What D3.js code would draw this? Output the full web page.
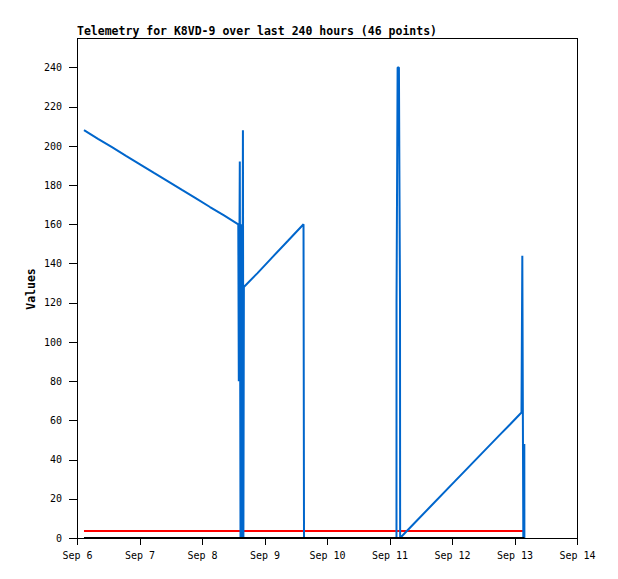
<!DOCTYPE html>
<html>
<head>
<meta charset="utf-8">
<script src="https://cdn.jsdelivr.net/npm/d3@7"></script>
<style>
  html, body { margin: 0; padding: 0; background: #fff; }
  svg { display: block; }
</style>
</head>
<body>
<svg id="chart" width="618" height="579"></svg>
<script>
const chartTitle = "Telemetry for K8VD-9 over last 240 hours (46 points)";
const yAxisTitle = "Values";

const times = [
  "2023-09-06 02:41","2023-09-06 08:04","2023-09-06 13:26","2023-09-06 18:49",
  "2023-09-07 00:11","2023-09-07 05:34","2023-09-07 10:57","2023-09-07 16:19",
  "2023-09-07 21:42","2023-09-08 03:04","2023-09-08 08:27","2023-09-08 13:56",
  "2023-09-08 14:08","2023-09-08 14:31","2023-09-08 14:47","2023-09-08 15:05",
  "2023-09-08 15:22","2023-09-08 15:43","2023-09-08 15:54","2023-09-08 16:05",
  "2023-09-08 21:19","2023-09-09 02:53","2023-09-09 09:01","2023-09-09 14:59",
  "2023-09-09 15:10","2023-09-10 01:09","2023-09-10 12:40","2023-09-10 18:26",
  "2023-09-11 02:41","2023-09-11 02:42","2023-09-11 03:07","2023-09-11 03:37",
  "2023-09-11 04:02","2023-09-11 04:05","2023-09-11 09:48","2023-09-11 15:33",
  "2023-09-12 01:09","2023-09-12 06:55","2023-09-12 12:40","2023-09-12 18:26",
  "2023-09-12 22:16","2023-09-13 02:41","2023-09-13 03:00","2023-09-13 03:23",
  "2023-09-13 03:46","2023-09-13 03:48"
];

const blueValues = [
  208, 203.6, 199.3, 194.9, 190.6, 186.2, 181.9, 177.5, 173.2, 168.8, 164.5, 160,
  80, 192, 0, 160, 0, 208, 0, 128,
  135.1, 143, 151.6, 160,
  0, 0, 0, 0, 0, 120, 240, 240, 120, 0,
  7.9, 15.8, 29.0, 36.9, 44.8, 52.7, 57.9, 64,
  144, 0, 48, 0
];

const redValues = [
  3.6,3.6,3.6,3.6,3.6,3.6,3.6,3.6,3.6,3.6,3.6,3.6,3.6,3.6,3.6,3.6,
  3.6,3.6,3.6,3.6,3.6,3.6,3.6,3.6,3.6,3.6,3.6,3.6,3.6,3.6,3.6,3.6,
  3.6,3.6,3.6,3.6,3.6,3.6,3.6,3.6,3.6,3.6,3.6,3.6,3.6,3.6
];

const blackValues = [
  0,0,0,0,0,0,0,0,0,0,0,0,0,0,0,0,0,0,0,0,0,0,0,0,
  0,0,0,0,0,0,0,0,0,0,0,0,0,0,0,0,0,0,0,0,0,0
];

const xDomain = ["2023-09-06 00:00", "2023-09-14 00:00"];
const yDomain = [0, 255];
const yTickValues = [0, 20, 40, 60, 80, 100, 120, 140, 160, 180, 200, 220, 240];

const parse = d3.utcParse("%Y-%m-%d %H:%M");
const svg = d3.select("#chart");
const margin = { left: 77, top: 38, right: 41, bottom: 41 };
const W = 618 - margin.left - margin.right;
const H = 579 - margin.top - margin.bottom;

const x = d3.scaleUtc().domain(xDomain.map(parse)).range([0, W]);
const y = d3.scaleLinear().domain(yDomain).range([H, 0]);

const g = svg.append("g").attr("transform", `translate(${margin.left},${margin.top})`);

// frame
g.append("rect").attr("x", 0.5).attr("y", 0.5).attr("width", W).attr("height", H)
  .attr("fill", "none").attr("stroke", "#000").attr("stroke-width", 1)
  .attr("shape-rendering", "crispEdges");

const mono = "'DejaVu Sans Mono', 'Liberation Mono', monospace";

// axes
const xAxis = d3.axisBottom(x)
  .ticks(d3.utcDay.every(1))
  .tickFormat(d3.utcFormat("Sep %-d"))
  .tickSizeInner(7).tickSizeOuter(0).tickPadding(7);
const xg = g.append("g").attr("transform", `translate(0,${H})`).call(xAxis);
xg.select(".domain").remove();

const yAxis = d3.axisLeft(y).tickValues(yTickValues)
  .tickSizeInner(8).tickSizeOuter(0).tickPadding(7);
const yg = g.append("g").call(yAxis);
yg.select(".domain").remove();

[xg, yg].forEach(a => {
  a.selectAll("text").attr("font-family", mono).attr("font-size", "10px").attr("fill", "#000");
  a.selectAll("line").attr("stroke", "#000").attr("shape-rendering", "crispEdges");
});

// series
const makeData = vals => times.map((t, i) => ({ t: parse(t), v: vals[i] }));
const line = d3.line().x(d => x(d.t)).y(d => y(d.v));

const series = [
  { vals: redValues, color: "#ff0000", width: 2 },
  { vals: blueValues, color: "#0066cc", width: 2 },
  { vals: blackValues, color: "#000000", width: 2 }
];
series.forEach(s => {
  g.append("path").datum(makeData(s.vals))
    .attr("d", line)
    .attr("fill", "none")
    .attr("stroke", s.color)
    .attr("stroke-width", s.width)
    .attr("stroke-linejoin", "miter")
    .attr("stroke-miterlimit", 1);
});

// title
svg.append("text").attr("x", 77).attr("y", 34.5)
  .attr("font-family", mono).attr("font-weight", "bold").attr("font-size", "11.5px")
  .text(chartTitle);

// y axis title
svg.append("text")
  .attr("transform", "translate(35,289) rotate(-90)")
  .attr("text-anchor", "middle")
  .attr("font-family", mono).attr("font-weight", "bold").attr("font-size", "11.5px")
  .text(yAxisTitle);
</script>
</body>
</html>
